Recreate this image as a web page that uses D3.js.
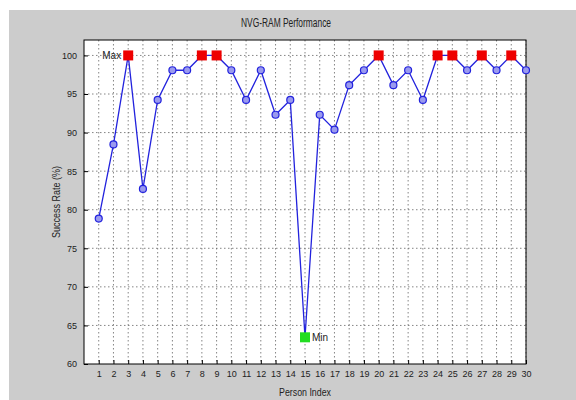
<!DOCTYPE html>
<html lang="en">
<head>
    <meta charset="UTF-8">
    <title>NVG-RAM Performance</title>
    <script src="https://d3js.org/d3.v7.min.js"></script>
    <style>
        body { margin: 0; background: #fff; font-family: "Liberation Sans Narrow", "Liberation Sans", Arial, sans-serif; }
        .grid line { stroke: #666; stroke-dasharray: 1.5 2.5; stroke-width: 0.8; }
        .axis text { font-size: 9px; fill: #222; }
    </style>
</head>
<body>
<script>
    // Data
    const persons = d3.range(1, 31);
    const successRate = [78.85, 88.46, 100, 82.69, 94.23, 98.08, 98.08, 100, 100, 98.08,
                         94.23, 98.08, 92.31, 94.23, 63.46, 92.31, 90.38, 96.15, 98.08, 100,
                         96.15, 98.08, 94.23, 100, 100, 98.08, 100, 98.08, 100, 98.08];
    const yTicks = [60, 65, 70, 75, 80, 85, 90, 95, 100];

    const W = 576, H = 400;
    const margin = {top: 40, right: 50, bottom: 36, left: 84};
    const width = W - margin.left - margin.right,
          height = H - margin.top - margin.bottom;

    const svg = d3.select("body").append("svg")
        .attr("width", W).attr("height", H);

    // gray figure background with white strip on top/left
    svg.append("rect").attr("x", 9).attr("y", 10)
        .attr("width", W - 9).attr("height", H - 10).attr("fill", "#cccccc");

    const g = svg.append("g").attr("transform", `translate(${margin.left},${margin.top})`);

    const x = d3.scaleLinear().domain([0, 30]).range([0, width]);
    const y = d3.scaleLinear().domain([60, 102]).range([height, 0]);

    g.append("rect").attr("width", width).attr("height", height).attr("fill", "#fff");

    // grid
    const grid = g.append("g").attr("class", "grid");
    grid.selectAll(".gx").data(persons).join("line")
        .attr("x1", d => x(d)).attr("x2", d => x(d))
        .attr("y1", 0).attr("y2", height);
    grid.selectAll(".gy").data(yTicks.slice(1)).join("line")
        .attr("x1", 0).attr("x2", width)
        .attr("y1", d => y(d)).attr("y2", d => y(d));

    // axes
    g.append("g").attr("class", "axis")
        .attr("transform", `translate(0,${height})`)
        .call(d3.axisBottom(x).tickValues(persons).tickSizeInner(-4).tickSizeOuter(0).tickPadding(7));
    g.append("g").attr("class", "axis")
        .call(d3.axisLeft(y).tickValues(yTicks).tickSizeInner(-4).tickSizeOuter(0).tickPadding(7));
    g.selectAll(".axis .domain").remove();
    g.selectAll(".axis line").attr("stroke", "#000");

    // box
    g.append("rect").attr("width", width).attr("height", height)
        .attr("fill", "none").attr("stroke", "#000").attr("stroke-width", 1);

    // line
    const line = d3.line().x((d, i) => x(persons[i])).y(d => y(d));
    g.append("path").datum(successRate)
        .attr("d", line).attr("fill", "none")
        .attr("stroke", "#2222dd").attr("stroke-width", 1.3);

    const maxV = d3.max(successRate), minV = d3.min(successRate);

    // circle markers
    g.selectAll(".pt").data(successRate).join("circle")
        .attr("cx", (d, i) => x(persons[i])).attr("cy", d => y(d))
        .attr("r", 3.5).attr("fill", "#9a9aee").attr("stroke", "#2222dd").attr("stroke-width", 1.2);

    // max markers (red squares)
    const maxIdx = successRate.map((d, i) => i).filter(i => successRate[i] === maxV);
    g.selectAll(".mx").data(maxIdx).join("rect")
        .attr("x", i => x(persons[i]) - 5).attr("y", i => y(successRate[i]) - 5)
        .attr("width", 10).attr("height", 10).attr("fill", "#ee0000");

    // min marker (green square)
    const minI = successRate.indexOf(minV);
    g.append("rect")
        .attr("x", x(persons[minI]) - 5).attr("y", y(minV) - 5)
        .attr("width", 10).attr("height", 10).attr("fill", "#22dd22");

    g.append("text").attr("x", x(persons[maxIdx[0]]) - 7).attr("y", y(maxV) + 3.5)
        .attr("text-anchor", "end").attr("font-size", 10).attr("fill", "#222").text("Max");
    g.append("text").attr("x", x(persons[minI]) + 7).attr("y", y(minV) + 3.5)
        .attr("font-size", 10).attr("fill", "#222").text("Min");

    // titles (condensed like the reference)
    svg.append("text").attr("x", 286).attr("y", 27).attr("text-anchor", "middle")
        .attr("font-size", 12).attr("fill", "#222")
        .attr("textLength", 90).attr("lengthAdjust", "spacingAndGlyphs")
        .text("NVG-RAM Performance");
    svg.append("text").attr("x", margin.left + width / 2).attr("y", 396).attr("text-anchor", "middle")
        .attr("font-size", 10).attr("fill", "#222")
        .attr("textLength", 52).attr("lengthAdjust", "spacingAndGlyphs")
        .text("Person Index");
    svg.append("text").attr("transform", `translate(60,${margin.top + height / 2}) rotate(-90)`)
        .attr("text-anchor", "middle").attr("font-size", 10).attr("fill", "#222")
        .attr("textLength", 72).attr("lengthAdjust", "spacingAndGlyphs")
        .text("Success Rate (%)");
</script>
</body>
</html>
